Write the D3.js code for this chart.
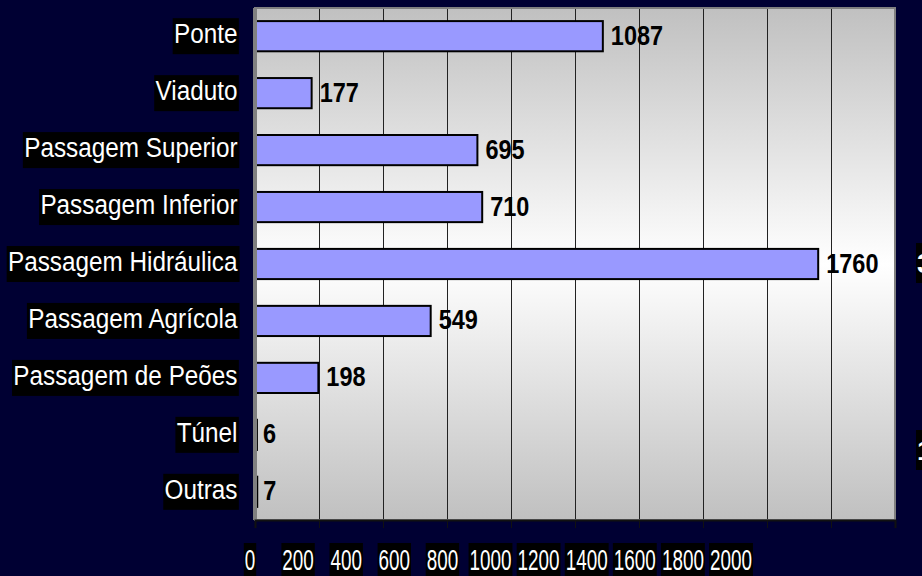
<!DOCTYPE html>
<html>
<head>
<meta charset="utf-8">
<script src="https://cdn.jsdelivr.net/npm/d3@7"></script>
<style>
  html, body { margin: 0; padding: 0; background: #000033; overflow: hidden; }
  svg { display: block; }
</style>
</head>
<body>
<div id="chart"></div>
<script>
const categories = ["Ponte", "Viaduto", "Passagem Superior", "Passagem Inferior",
  "Passagem Hidráulica", "Passagem Agrícola", "Passagem de Peões", "Túnel", "Outras"];
const values = [1087, 177, 695, 710, 1760, 549, 198, 6, 7];
const tickValues = [0, 200, 400, 600, 800, 1000, 1200, 1400, 1600, 1800, 2000];
const sideMarks = ["3", "1"];

const W = 922, H = 576;
const margin = {top: 8, left: 255, right: 27, bottom: 56};
const width = W - margin.left - margin.right;   // 640
const height = H - margin.top - margin.bottom;  // 512

const svg = d3.select("#chart").append("svg")
    .attr("width", W)
    .attr("height", H);

svg.append("rect").attr("width", W).attr("height", H).attr("fill", "#000033");

const defs = svg.append("defs");
const grad = defs.append("linearGradient")
    .attr("id", "plotBg")
    .attr("x1", 0).attr("y1", 0).attr("x2", 0).attr("y2", 1);
grad.append("stop").attr("offset", "0%").attr("stop-color", "#c0c0c0");
grad.append("stop").attr("offset", "50%").attr("stop-color", "#ffffff");
grad.append("stop").attr("offset", "100%").attr("stop-color", "#c0c0c0");

const g = svg.append("g").attr("transform", `translate(${margin.left},${margin.top})`);

const x = d3.scaleLinear().domain([0, 2000]).range([0, width]);
const y = d3.scaleBand().domain(categories).range([0, height]).paddingInner(0.47).paddingOuter(0.23);

// tick labels sit on a compressed scale in the original
const xLabel = d3.scaleLinear().domain([0, 2000]).range([250 - margin.left, 731 - margin.left]);

// plot background
g.append("rect")
    .attr("width", width).attr("height", height)
    .attr("fill", "url(#plotBg)");

// gridlines
g.append("g")
    .selectAll("line")
    .data(tickValues.slice(1, -1))
  .join("line")
    .attr("x1", d => Math.round(x(d)) + 0.5).attr("x2", d => Math.round(x(d)) + 0.5)
    .attr("y1", 0).attr("y2", height)
    .attr("stroke", "#222222").attr("stroke-width", 1);

// bars
g.append("g")
    .selectAll("rect")
    .data(values)
  .join("rect")
    .attr("x", x(0))
    .attr("y", (d, i) => y(categories[i]))
    .attr("width", d => x(d) - x(0))
    .attr("height", y.bandwidth())
    .attr("fill", "#9999ff")
    .attr("stroke", "#000000")
    .attr("stroke-width", 2);

// frame on top
g.append("rect")
    .attr("width", width).attr("height", height)
    .attr("fill", "none")
    .attr("stroke", "#808080").attr("stroke-width", 2);
g.append("line")
    .attr("x1", 0).attr("x2", 0).attr("y1", 0).attr("y2", height)
    .attr("stroke", "#808080").attr("stroke-width", 4);

// bottom axis
const axis = g.append("g")
    .attr("transform", `translate(0,${height})`)
    .call(d3.axisBottom(x).tickValues(tickValues).tickSize(8).tickFormat(""));
axis.select(".domain").attr("stroke", "#111111").attr("stroke-width", 2);
axis.selectAll(".tick line").attr("stroke", "#111111").attr("stroke-width", 1);

// value labels
g.append("g")
    .selectAll("text")
    .data(values)
  .join("text")
    .attr("transform", (d, i) =>
      `translate(${x(d) + (d < 50 ? 6 : 8)},${y(categories[i]) + y.bandwidth() / 2 + 8.5}) scale(0.87,1)`)
    .attr("font-family", "Liberation Sans, Arial, sans-serif")
    .attr("font-size", 27)
    .attr("font-weight", "bold")
    .attr("fill", "#000000")
    .text(d => d);

// labels with black boxes
function boxedLabel(parent, tx, ty, sx, size, anchor, txt, boxTop, boxH) {
  const lg = parent.append("g").attr("transform", `translate(${tx},${ty}) scale(${sx},1)`);
  const r = lg.append("rect").attr("fill", "#000000");
  const t = lg.append("text")
      .attr("font-family", "Liberation Sans, Arial, sans-serif")
      .attr("font-size", size)
      .attr("fill", "#ffffff")
      .attr("text-anchor", anchor)
      .text(txt);
  const b = t.node().getBBox();
  r.attr("x", b.x - 1.5).attr("width", b.width + 3)
   .attr("y", boxTop).attr("height", boxH);
}

const catG = svg.append("g");
categories.forEach(c => {
  const cy = margin.top + y(c) + y.bandwidth() / 2;
  boxedLabel(catG, 237.5, cy + 7, 0.9, 27, "end", c, -25, 36);
});

const tickG = svg.append("g");
tickValues.forEach(v => {
  boxedLabel(tickG, margin.left + xLabel(v), 570, 0.64, 29.5, "middle", v, -27, 36);
});

// partially visible marks at the right edge
const sideY = [283, 470];
sideMarks.forEach((m, i) => {
  const lg = svg.append("g").attr("transform", `translate(916,${sideY[i] - 10})`);
  lg.append("rect").attr("x", 0).attr("y", -30).attr("width", 30).attr("height", 40).attr("fill", "#000000");
  lg.append("text")
    .attr("x", 1)
    .attr("font-family", "Liberation Sans, Arial, sans-serif")
    .attr("font-size", 28).attr("font-weight", "bold")
    .attr("fill", "#ffffff")
    .text(m);
});
</script>
</body>
</html>
